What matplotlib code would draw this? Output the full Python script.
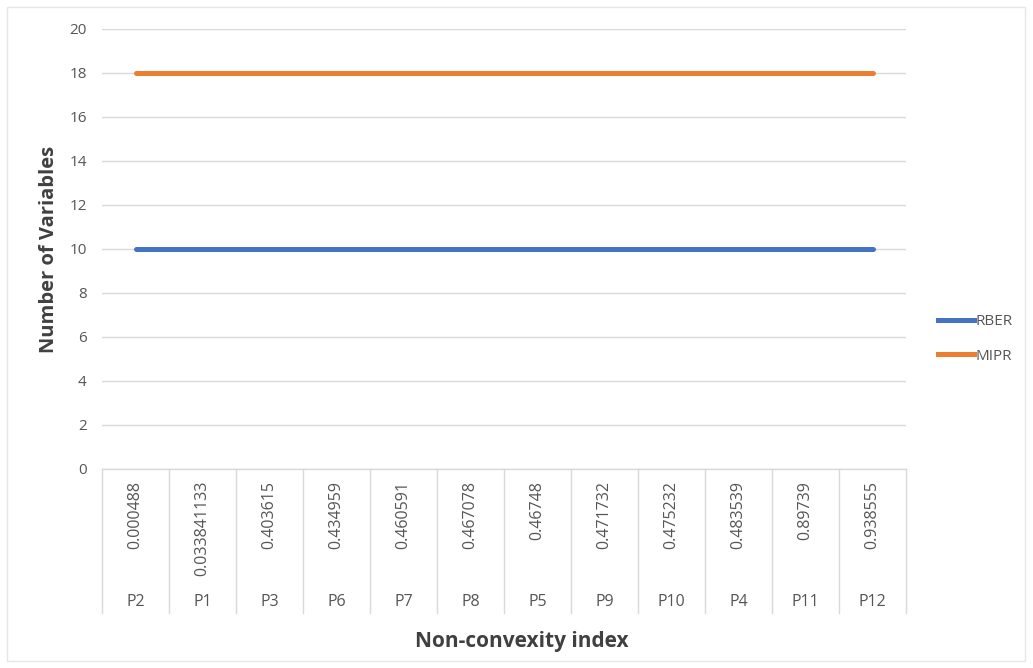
import matplotlib.pyplot as plt
from matplotlib.lines import Line2D
from matplotlib.patches import Rectangle
import matplotlib.transforms as mtransforms

plt.rcParams['font.family'] = ['Open Sans', 'DejaVu Sans']

# Problems ordered by non-convexity index
problems = ['P2', 'P1', 'P3', 'P6', 'P7', 'P8', 'P5', 'P9', 'P10', 'P4', 'P11', 'P12']
nonconvexity = ['0.000488', '0.033841133', '0.403615', '0.434959', '0.460591', '0.467078',
                '0.46748', '0.471732', '0.475232', '0.483539', '0.89739', '0.938555']
rber_vars = [10, 10, 10, 10, 10, 10, 10, 10, 10, 10, 10, 10]
mipr_vars = [18, 18, 18, 18, 18, 18, 18, 18, 18, 18, 18, 18]

blue = '#4472C4'
orange = '#ED7D31'
grid_col = '#d9d9d9'
text_col = '#555555'

fig = plt.figure(figsize=(10.33, 6.68), dpi=100)
ax = fig.add_axes([102 / 1033, 199 / 668, 804 / 1033, 440 / 668])

# outer chart border
fig.patches.append(Rectangle((7 / 1033, 7 / 668), 1018 / 1033, 654 / 668,
                             transform=fig.transFigure, fill=False,
                             edgecolor='#e6e6e6', linewidth=1))

x = list(range(len(problems)))
ax.plot(x, rber_vars, color=blue, linewidth=3.6, solid_capstyle='round', zorder=3)
ax.plot(x, mipr_vars, color=orange, linewidth=3.6, solid_capstyle='round', zorder=3)

ax.set_xlim(-0.5, len(problems) - 0.5)
ax.set_ylim(0, 20)
ax.set_yticks(range(0, 21, 2))
ax.tick_params(axis='y', length=0, labelsize=11, labelcolor=text_col, pad=11)
ax.set_xticks([])
ax.yaxis.grid(True, color=grid_col, linewidth=1)
ax.set_axisbelow(True)
for s in ['top', 'right', 'left']:
    ax.spines[s].set_visible(False)
ax.spines['bottom'].set_color(grid_col)
ax.spines['bottom'].set_linewidth(1)

# two-level category axis
trans = mtransforms.blended_transform_factory(ax.transData, ax.transAxes)
sep_bottom = -144 / 440
for b in range(len(problems) + 1):
    ax.plot([b - 0.5, b - 0.5], [0, sep_bottom], transform=trans, color=grid_col,
            linewidth=1, clip_on=False)
for i, (p, v) in enumerate(zip(problems, nonconvexity)):
    ax.text(i, -12 / 440, v, transform=trans, rotation=90, ha='center', va='top',
            fontsize=11.5, color=text_col)
    ax.text(i, -133 / 440, p, transform=trans, ha='center', va='center',
            fontsize=11.5, color=text_col)

ax.set_ylabel('Number of Variables', fontsize=14.5, fontweight='bold', color='#404040', labelpad=7)
fig.text(522 / 1033, 1 - 642 / 668, 'Non-convexity index', ha='center', va='center',
         fontsize=15, fontweight='bold', color='#404040')

handles = [Line2D([], [], color=blue, linewidth=3.6),
           Line2D([], [], color=orange, linewidth=3.6)]
fig.legend(handles, ['RBER', 'MIPR'], loc='center left', bbox_to_anchor=(924 / 1033, 1 - 339 / 668),
           frameon=False, fontsize=11, labelcolor=text_col, handlelength=2.4,
           handletextpad=0.1, labelspacing=1.25)

fig.savefig('out.png', dpi=100, facecolor='white')
